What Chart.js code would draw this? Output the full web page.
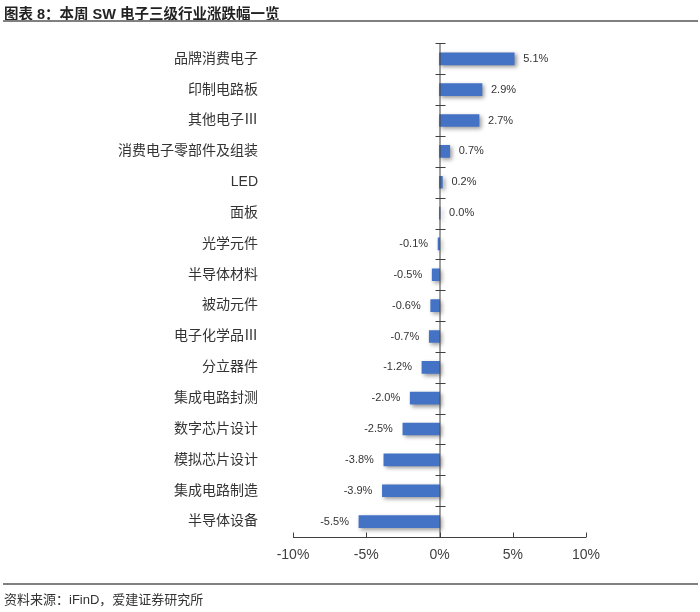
<!DOCTYPE html>
<html>
<head>
<meta charset="utf-8">
<script src="https://cdn.jsdelivr.net/npm/chart.js@4.4.1/dist/chart.umd.min.js"></script>
<style>
  body { margin: 0; background: #fff; font-family: "Liberation Sans", "Noto Sans CJK SC", sans-serif; }
  #wrap { position: relative; width: 700px; height: 612px; overflow: hidden; }
  #chart { position: absolute; left: 0; top: 0; }
  #title { position: absolute; left: 4px; top: 2px; font-size: 14.5px; font-weight: bold; color: #222; }
  .rule { position: absolute; left: 3px; right: 2px; height: 2px; background: #808080; }
  #source { position: absolute; left: 4px; top: 589px; font-size: 13px; color: #333; }
</style>
</head>
<body>
<div id="wrap">
  <canvas id="chart" width="700" height="612"></canvas>
  <div id="title">图表 8：本周 SW 电子三级行业涨跌幅一览</div>
  <div class="rule" style="top:20px"></div>
  <div class="rule" style="top:583px"></div>
  <div id="source">资料来源：iFinD，爱建证券研究所</div>
</div>
<script>
const categories = [
  "品牌消费电子", "印制电路板", "其他电子Ⅲ", "消费电子零部件及组装", "LED", "面板",
  "光学元件", "半导体材料", "被动元件", "电子化学品Ⅲ", "分立器件", "集成电路封测",
  "数字芯片设计", "模拟芯片设计", "集成电路制造", "半导体设备"
];
const changes = [5.1, 2.9, 2.7, 0.7, 0.2, 0.04, -0.1, -0.5, -0.6, -0.7, -1.2, -2.0, -2.5, -3.8, -3.9, -5.5];
const xTicks = [-10, -5, 0, 5, 10];

const FONT = '"Liberation Sans", "Noto Sans CJK SC", sans-serif';

// shadow under bars, zero line with category ticks, bottom axis, value labels
const decorPlugin = {
  id: "decor",
  beforeDatasetsDraw(chart) {
    const ctx = chart.ctx;
    ctx.save();
    ctx.shadowColor = "rgba(0,0,0,0.4)";
    ctx.shadowBlur = 4;
    ctx.shadowOffsetX = 2;
    ctx.shadowOffsetY = 2;
  },
  afterDatasetsDraw(chart) {
    const ctx = chart.ctx;
    ctx.restore();
    const x = chart.scales.x;
    const area = chart.chartArea;
    const x0 = x.getPixelForValue(0);

    ctx.save();
    ctx.strokeStyle = "#404040";
    ctx.lineWidth = 1;
    ctx.beginPath();
    ctx.moveTo(x0 + 0.5, area.top);
    ctx.lineTo(x0 + 0.5, area.bottom);
    const step = (area.bottom - area.top) / categories.length;
    for (let i = 0; i < categories.length; i++) {
      const yy = Math.round(area.top + i * step) + 0.5;
      ctx.moveTo(x0 - 4, yy);
      ctx.lineTo(x0 + 6, yy);
    }
    const yb = Math.round(area.bottom) + 0.5;
    ctx.moveTo(x.getPixelForValue(xTicks[0]), yb);
    ctx.lineTo(x.getPixelForValue(xTicks[xTicks.length - 1]), yb);
    xTicks.forEach(v => {
      const px = Math.round(x.getPixelForValue(v)) + 0.5;
      ctx.moveTo(px, yb);
      ctx.lineTo(px, yb - 5);
    });
    ctx.stroke();

    ctx.fillStyle = "#333";
    ctx.font = "11px " + FONT;
    ctx.textBaseline = "middle";
    const meta = chart.getDatasetMeta(0);
    meta.data.forEach((bar, i) => {
      const v = changes[i];
      const txt = v.toFixed(1) + "%";
      if (v >= 0) {
        ctx.textAlign = "left";
        ctx.fillText(txt, bar.x + 9, bar.y);
      } else {
        ctx.textAlign = "right";
        ctx.fillText(txt, bar.x - 10, bar.y);
      }
    });
    ctx.restore();
  }
};

new Chart(document.getElementById("chart"), {
  type: "bar",
  data: {
    labels: categories,
    datasets: [{
      data: changes,
      backgroundColor: "#4472C4",
      barThickness: 12
    }]
  },
  options: {
    indexAxis: "y",
    responsive: false,
    animation: false,
    layout: { padding: { top: 35, right: 114, left: 0, bottom: 0 } },
    plugins: { legend: { display: false }, tooltip: { enabled: false } },
    scales: {
      x: {
        min: -10,
        max: 10,
        afterBuildTicks: s => { s.ticks = xTicks.map(v => ({ value: v })); },
        afterFit: s => { s.height = 75; },
        grid: { display: false, drawTicks: false },
        border: { display: false },
        ticks: {
          padding: 10,
          color: "#404040",
          font: { family: FONT, size: 14 },
          callback: v => v + "%"
        }
      },
      y: {
        afterFit: s => { s.width = 293; },
        grid: { display: false, drawTicks: false },
        border: { display: false },
        ticks: {
          padding: 35,
          color: "#333",
          font: { family: FONT, size: 14 }
        }
      }
    }
  },
  plugins: [decorPlugin]
});
</script>
</body>
</html>
